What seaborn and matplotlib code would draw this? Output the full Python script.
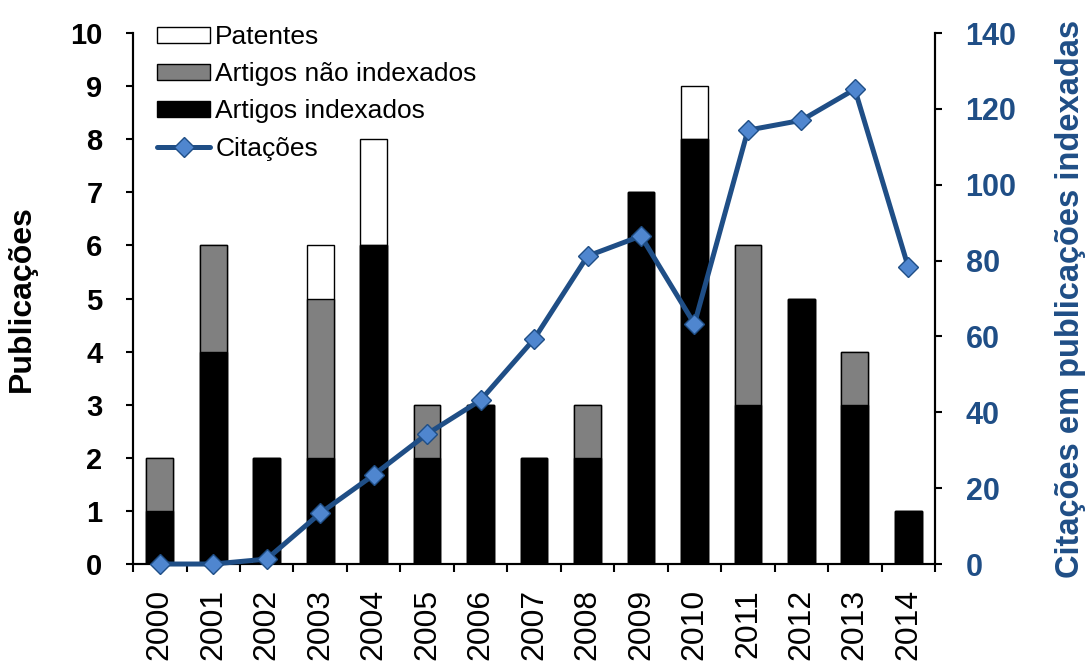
import numpy as np
import pandas as pd
import seaborn as sns
import matplotlib.pyplot as plt
from matplotlib.ticker import FixedLocator, MultipleLocator

# data
anos = [str(a) for a in range(2000, 2015)]
artigos_indexados = [1, 4, 2, 2, 6, 2, 3, 2, 2, 7, 8, 3, 5, 3, 1]
artigos_nao_indexados = [1, 2, 0, 3, 0, 1, 0, 0, 1, 0, 0, 3, 0, 1, 0]
patentes = [0, 0, 0, 1, 2, 0, 0, 0, 0, 0, 1, 0, 0, 0, 0]
citacoes = [0, 0, 1.3, 13.4, 23.5, 34.3, 43.2, 59.3, 81.2, 86.5, 63.3, 114.4, 117, 125.2, 78.3]

df = pd.DataFrame({
    'ano': anos,
    'indexados': artigos_indexados,
    'nao_indexados': artigos_nao_indexados,
    'patentes': patentes,
    'citacoes': citacoes,
})
# cumulative heights for the stacked look
df['nivel2'] = df['indexados'] + df['nao_indexados']
df['total'] = df['nivel2'] + df['patentes']

sns.set_style('ticks')
plt.rcParams['font.family'] = ['Liberation Sans', 'DejaVu Sans']
plt.rcParams.update({
    'text.color': 'black',
    'axes.labelcolor': 'black',
    'axes.edgecolor': 'black',
    'xtick.color': 'black',
    'ytick.color': 'black',
})

azul_escuro = '#1F4E86'
azul_marcador = '#4F86CF'

fig = plt.figure(figsize=(10.91, 6.62), dpi=100)
ax = fig.add_axes([0.122, 0.148, 0.735, 0.802])

bar_kw = dict(width=0.5, edgecolor='black', linewidth=1.0, ax=ax, order=anos)
sns.barplot(data=df, x='ano', y='total', color='white', label='Patentes', **bar_kw)
sns.barplot(data=df, x='ano', y='nivel2', color='#808080', label='Artigos não indexados', **bar_kw)
sns.barplot(data=df, x='ano', y='indexados', color='black', label='Artigos indexados', **bar_kw)

ax.set_xlim(-0.5, len(anos) - 0.5)
ax.set_ylim(0, 10)
ax.yaxis.set_major_locator(MultipleLocator(1))
ax.set_xlabel('')
ax.set_ylabel('Publicações', fontsize=23, fontweight='bold', labelpad=24)
ax.tick_params(axis='y', labelsize=21, width=1.5, length=5, pad=17)
for t in ax.get_yticklabels():
    t.set_fontweight('bold')

# x ticks between categories, labels rotated in the middle
ax.set_xticks(range(len(anos)))
ax.set_xticklabels(anos, rotation=90, fontsize=23)
ax.tick_params(axis='x', which='major', length=0, pad=18)
ax.xaxis.set_minor_locator(FixedLocator(np.arange(-0.5, len(anos), 1)))
ax.tick_params(axis='x', which='minor', length=6, width=1.5)

ax2 = ax.twinx()
sns.lineplot(x=np.arange(len(anos)), y=df['citacoes'], ax=ax2, color=azul_escuro,
             linewidth=3.6, marker='D', markersize=10, markerfacecolor=azul_marcador,
             markeredgecolor=azul_escuro, markeredgewidth=1.0, label='Citações',
             clip_on=False, zorder=5)
ax2.set_ylim(0, 140)
ax2.yaxis.set_major_locator(MultipleLocator(20))
ax2.set_ylabel('Citações em publicações indexadas', fontsize=23.5, fontweight='bold',
               color=azul_escuro, labelpad=28)
ax2.tick_params(axis='y', labelsize=22, labelcolor=azul_escuro, width=1.5, length=5, pad=17)
for t in ax2.get_yticklabels():
    t.set_fontweight('bold')
ax2.set_xlim(-0.5, len(anos) - 0.5)

for a in (ax, ax2):
    a.spines['top'].set_visible(False)
    for s in ('left', 'right', 'bottom'):
        a.spines[s].set_linewidth(1.5)
        a.spines[s].set_color('black')

h1, l1 = ax.get_legend_handles_labels()
h2, l2 = ax2.get_legend_handles_labels()
if ax2.get_legend() is not None:
    ax2.get_legend().remove()
if ax.get_legend() is not None:
    ax.get_legend().remove()
ax2.legend(h1 + h2, l1 + l2, loc='upper left', bbox_to_anchor=(0.017, 1.035),
           frameon=False, fontsize=19, handlelength=2.0, handleheight=0.55,
           handletextpad=0.2, labelspacing=0.5, borderaxespad=0)

fig.savefig('out.png', dpi=100)
